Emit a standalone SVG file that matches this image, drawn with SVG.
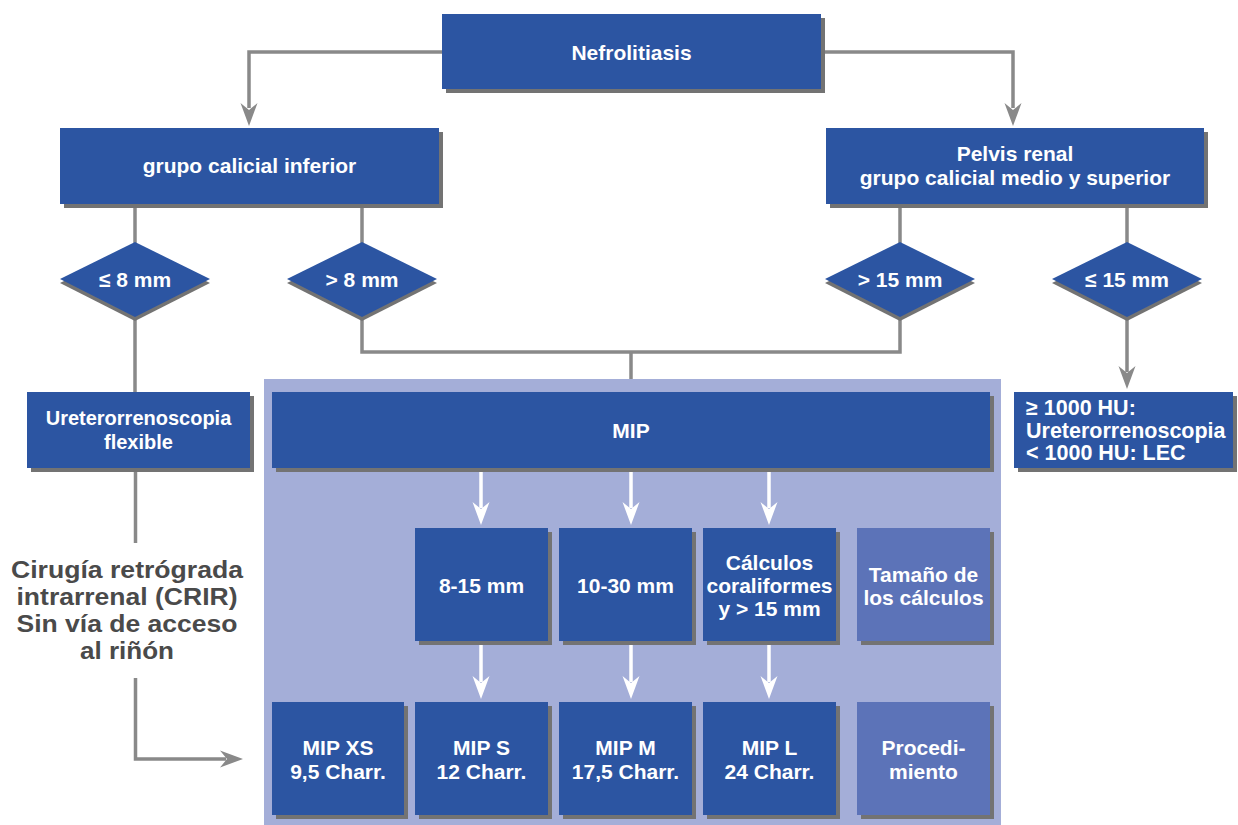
<svg xmlns="http://www.w3.org/2000/svg" width="1238" height="825" viewBox="0 0 1238 825">
<defs>
<style>
.box{fill:#2c55a2}
.lbox{fill:#5c73b8}
.sh{fill:#737373}
.t{font-family:"Liberation Sans",Arial,Helvetica,sans-serif;font-weight:bold;font-size:21px;fill:#ffffff;text-anchor:middle}
.g{fill:none;stroke:#898989;stroke-width:3.5}
.w{fill:none;stroke:#ffffff;stroke-width:3.5}
.grey{font-family:"Liberation Sans",Arial,Helvetica,sans-serif;font-weight:bold;font-size:23.3px;fill:#4a4a4a;text-anchor:middle}
</style>
<path id="ah" d="M0,0 L-8.5,-23 L0,-16 L8.5,-23 Z"/>
</defs>
<rect width="1238" height="825" fill="#ffffff"/>

<!-- panel -->
<rect id="panel" x="264" y="379" width="737" height="446" fill="#a4aed8"/>

<!-- connectors -->
<g id="connectors">
<polyline class="g" points="442,52 249,52 249,108"/>
<use href="#ah" x="249" y="126" fill="#898989"/>
<polyline class="g" points="821,52 1013,52 1013,108"/>
<use href="#ah" x="1013" y="126" fill="#898989"/>
<line class="g" x1="135" y1="204" x2="135" y2="244"/>
<line class="g" x1="362" y1="204" x2="362" y2="244"/>
<line class="g" x1="900" y1="204" x2="900" y2="244"/>
<line class="g" x1="1127" y1="204" x2="1127" y2="244"/>
<line class="g" x1="135" y1="316" x2="135" y2="392"/>
<polyline class="g" points="362,316 362,352 900,352 900,316"/>
<line class="g" x1="631" y1="352" x2="631" y2="379"/>
<line class="g" x1="1127" y1="316" x2="1127" y2="372"/>
<use href="#ah" x="1127" y="389" fill="#898989"/>
<line class="g" x1="135.5" y1="468" x2="135.5" y2="543"/>
<polyline class="g" points="135.5,678 135.5,759 226,759"/>
<use href="#ah" transform="translate(243,759) rotate(-90)" fill="#898989"/>
<line class="w" x1="481" y1="468" x2="481" y2="508"/>
<use href="#ah" x="481" y="525" fill="#ffffff"/>
<line class="w" x1="631" y1="468" x2="631" y2="508"/>
<use href="#ah" x="631" y="525" fill="#ffffff"/>
<line class="w" x1="769" y1="468" x2="769" y2="508"/>
<use href="#ah" x="769" y="525" fill="#ffffff"/>
<line class="w" x1="481" y1="641" x2="481" y2="682"/>
<use href="#ah" x="481" y="699" fill="#ffffff"/>
<line class="w" x1="631" y1="641" x2="631" y2="682"/>
<use href="#ah" x="631" y="699" fill="#ffffff"/>
<line class="w" x1="769" y1="641" x2="769" y2="682"/>
<use href="#ah" x="769" y="699" fill="#ffffff"/>
</g>

<g id="n-nefrolitiasis">
<rect class="sh" x="446" y="18" width="379" height="75"/>
<rect class="box" x="442" y="14" width="379" height="75"/>
<text class="t" x="631.5" y="60">Nefrolitiasis</text>
</g>

<g id="n-inferior">
<rect class="sh" x="64" y="132" width="379" height="76"/>
<rect class="box" x="60" y="128" width="379" height="76"/>
<text class="t" x="249.5" y="173">grupo calicial inferior</text>
</g>

<g id="n-pelvis">
<rect class="sh" x="830" y="132" width="378" height="76"/>
<rect class="box" x="826" y="128" width="378" height="76"/>
<text class="t"><tspan x="1015" y="161">Pelvis renal</tspan><tspan x="1015" y="185">grupo calicial medio y superior</tspan></text>
</g>

<g id="d-le8">
<polygon class="sh" points="135,246 210,283 135,321 60,283"/>
<polygon class="box" points="135,242 210,279 135,317 60,279"/>
<text class="t" x="135" y="287">≤ 8 mm</text>
</g>
<g id="d-gt8">
<polygon class="sh" points="362,246 437,283 362,321 287,283"/>
<polygon class="box" points="362,242 437,279 362,317 287,279"/>
<text class="t" x="362" y="287">&gt; 8 mm</text>
</g>
<g id="d-gt15">
<polygon class="sh" points="900,246 975,283 900,321 825,283"/>
<polygon class="box" points="900,242 975,279 900,317 825,279"/>
<text class="t" x="900" y="287">&gt; 15 mm</text>
</g>
<g id="d-le15">
<polygon class="sh" points="1127,246 1202,283 1127,321 1052,283"/>
<polygon class="box" points="1127,242 1202,279 1127,317 1052,279"/>
<text class="t" x="1127" y="287">≤ 15 mm</text>
</g>

<g id="n-urs">
<rect class="sh" x="31" y="396" width="223" height="76"/>
<rect class="box" x="27" y="392" width="223" height="76"/>
<text class="t" style="font-size:20px"><tspan x="138.5" y="425">Ureterorrenoscopia</tspan><tspan x="138.5" y="449">flexible</tspan></text>
</g>

<g id="n-crir">
<text class="grey" x="127" y="578" textLength="232" lengthAdjust="spacingAndGlyphs">Cirugía retrógrada</text>
<text class="grey" x="127" y="605" textLength="221" lengthAdjust="spacingAndGlyphs">intrarrenal (CRIR)</text>
<text class="grey" x="127" y="632" textLength="221" lengthAdjust="spacingAndGlyphs">Sin vía de acceso</text>
<text class="grey" x="127" y="659" textLength="94" lengthAdjust="spacingAndGlyphs">al riñón</text>
</g>

<g id="n-hu">
<rect class="sh" x="1018" y="396" width="219" height="76"/>
<rect class="box" x="1014" y="392" width="219" height="76"/>
<text class="t" style="text-anchor:start;font-size:21.5px"><tspan x="1026" y="415">≥ 1000 HU:</tspan><tspan x="1026" y="437.5">Ureterorrenoscopia</tspan><tspan x="1026" y="460">&lt; 1000 HU: LEC</tspan></text>
</g>

<g id="n-mip">
<rect class="sh" x="276" y="396" width="718" height="76"/>
<rect class="box" x="272" y="392" width="718" height="76"/>
<text class="t" x="631" y="438">MIP</text>
</g>

<g id="n-8-15">
<rect class="sh" x="419" y="532" width="133" height="113"/>
<rect class="box" x="415" y="528" width="133" height="113"/>
<text class="t" x="481.5" y="592.5">8-15 mm</text>
</g>
<g id="n-10-30">
<rect class="sh" x="563" y="532" width="133" height="113"/>
<rect class="box" x="559" y="528" width="133" height="113"/>
<text class="t" x="625.5" y="592.5">10-30 mm</text>
</g>
<g id="n-coral">
<rect class="sh" x="707" y="532" width="133" height="113"/>
<rect class="box" x="703" y="528" width="133" height="113"/>
<text class="t"><tspan x="769.5" y="569.5">Cálculos</tspan><tspan x="769.5" y="592.5">coraliformes</tspan><tspan x="769.5" y="615.5">y &gt; 15 mm</tspan></text>
</g>
<g id="n-tamano">
<rect class="sh" x="861" y="532" width="133" height="113"/>
<rect class="lbox" x="857" y="528" width="133" height="113"/>
<text class="t"><tspan x="923.5" y="581.5">Tamaño de</tspan><tspan x="923.5" y="605">los cálculos</tspan></text>
</g>

<g id="n-xs">
<rect class="sh" x="276" y="706" width="132" height="113"/>
<rect class="box" x="272" y="702" width="132" height="113"/>
<text class="t"><tspan x="338" y="755">MIP XS</tspan><tspan x="338" y="778.5">9,5 Charr.</tspan></text>
</g>
<g id="n-s">
<rect class="sh" x="419" y="706" width="133" height="113"/>
<rect class="box" x="415" y="702" width="133" height="113"/>
<text class="t"><tspan x="481.5" y="755">MIP S</tspan><tspan x="481.5" y="778.5">12 Charr.</tspan></text>
</g>
<g id="n-m">
<rect class="sh" x="563" y="706" width="133" height="113"/>
<rect class="box" x="559" y="702" width="133" height="113"/>
<text class="t"><tspan x="625.5" y="755">MIP M</tspan><tspan x="625.5" y="778.5">17,5 Charr.</tspan></text>
</g>
<g id="n-l">
<rect class="sh" x="707" y="706" width="133" height="113"/>
<rect class="box" x="703" y="702" width="133" height="113"/>
<text class="t"><tspan x="769.5" y="755">MIP L</tspan><tspan x="769.5" y="778.5">24 Charr.</tspan></text>
</g>
<g id="n-proc">
<rect class="sh" x="861" y="706" width="133" height="113"/>
<rect class="lbox" x="857" y="702" width="133" height="113"/>
<text class="t"><tspan x="923.5" y="755">Procedi-</tspan><tspan x="923.5" y="778.5">miento</tspan></text>
</g>
</svg>
